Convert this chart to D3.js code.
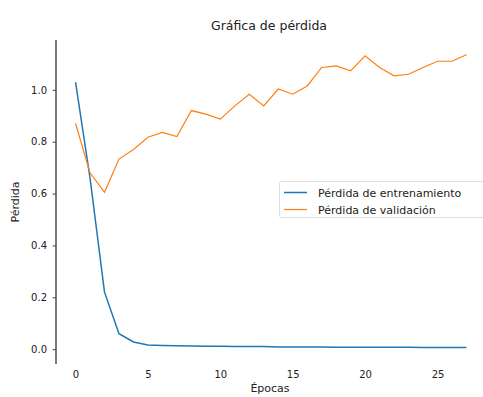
<!DOCTYPE html>
<html><head><meta charset="utf-8">
<script src="https://cdn.jsdelivr.net/npm/d3@7"></script>
<style>body{margin:0;background:#fff}svg{display:block}text{font-family:"DejaVu Sans",sans-serif;fill:#222}</style>
</head><body>
<script>
const epochs = d3.range(0, 28);
const trainLoss = [1.03, 0.66, 0.22, 0.06, 0.028, 0.016, 0.014, 0.013, 0.012, 0.011, 0.011, 0.010, 0.010, 0.010, 0.009, 0.009, 0.009, 0.009, 0.008, 0.008, 0.008, 0.008, 0.008, 0.008, 0.007, 0.007, 0.007, 0.007];
const valLoss = [0.87, 0.68, 0.605, 0.733, 0.77, 0.817, 0.836, 0.82, 0.92, 0.906, 0.887, 0.938, 0.983, 0.938, 1.003, 0.983, 1.015, 1.086, 1.092, 1.073, 1.131, 1.086, 1.054, 1.06, 1.086, 1.11, 1.11, 1.135];
const xTicks = [0, 5, 10, 15, 20, 25];
const yTicks = [0.0, 0.2, 0.4, 0.6, 0.8, 1.0];
const seriesNames = ["Pérdida de entrenamiento", "Pérdida de validación"];
const colors = ["#1f77b4", "#ff7f0e"];
const title = "Gráfica de pérdida", xLabel = "Épocas", yLabel = "Pérdida";

const W = 483, H = 397;
const svg = d3.select("body").append("svg").attr("width", W).attr("height", H);
const x = d3.scaleLinear().domain([-1.35, 28.35]).range([56, 486]);
const y = d3.scaleLinear().domain([-0.057, 1.192]).range([364, 40]);

// left spine + y axis
const ya = svg.append("g").attr("transform", "translate(56,0)")
  .call(d3.axisLeft(y).tickValues(yTicks).tickFormat(d3.format(".1f")).tickSize(3.5).tickPadding(5.5));
ya.select(".domain").attr("d", "M0,40V364").attr("stroke", "#222").attr("stroke-width", 1.2);
ya.selectAll(".tick line").attr("stroke", "#444");
ya.selectAll("text").attr("font-family", "DejaVu Sans").attr("font-size", 10).attr("fill", "#222");

// x axis (no spine)
const xa = svg.append("g").attr("transform", "translate(0,364)")
  .call(d3.axisBottom(x).tickValues(xTicks).tickSize(0).tickPadding(7));
xa.select(".domain").remove();
xa.selectAll("text").attr("font-family", "DejaVu Sans").attr("font-size", 10).attr("fill", "#222");

const line = d3.line().x((d, i) => x(epochs[i])).y(d => y(d));
[trainLoss, valLoss].forEach((s, k) => {
  svg.append("path").datum(s).attr("d", line).attr("fill", "none")
    .attr("stroke", colors[k]).attr("stroke-width", k === 0 ? 1.5 : 1.2);
});

svg.append("text").attr("x", 269).attr("y", 30).attr("text-anchor", "middle").attr("font-size", 12.5).text(title);
svg.append("text").attr("x", 270).attr("y", 392).attr("text-anchor", "middle").attr("font-size", 11).text(xLabel);
svg.append("text").attr("transform", "translate(19,202) rotate(-90)").attr("text-anchor", "middle").attr("font-size", 11).text(yLabel);

// legend
const lg = svg.append("g");
lg.append("rect").attr("x", 279.5).attr("y", 181.5).attr("width", 212).attr("height", 36)
  .attr("fill", "#fff").attr("fill-opacity", 0.8).attr("stroke", "#ddd").attr("stroke-width", 1).attr("rx", 2);
seriesNames.forEach((n, k) => {
  const yy = 192.5 + k * 17;
  lg.append("line").attr("x1", 284).attr("x2", 307).attr("y1", yy).attr("y2", yy).attr("stroke", colors[k]).attr("stroke-width", k === 0 ? 1.5 : 1.2);
  lg.append("text").attr("x", 318).attr("y", yy + 4).attr("font-size", 11).text(n);
});
</script>
</body></html>
